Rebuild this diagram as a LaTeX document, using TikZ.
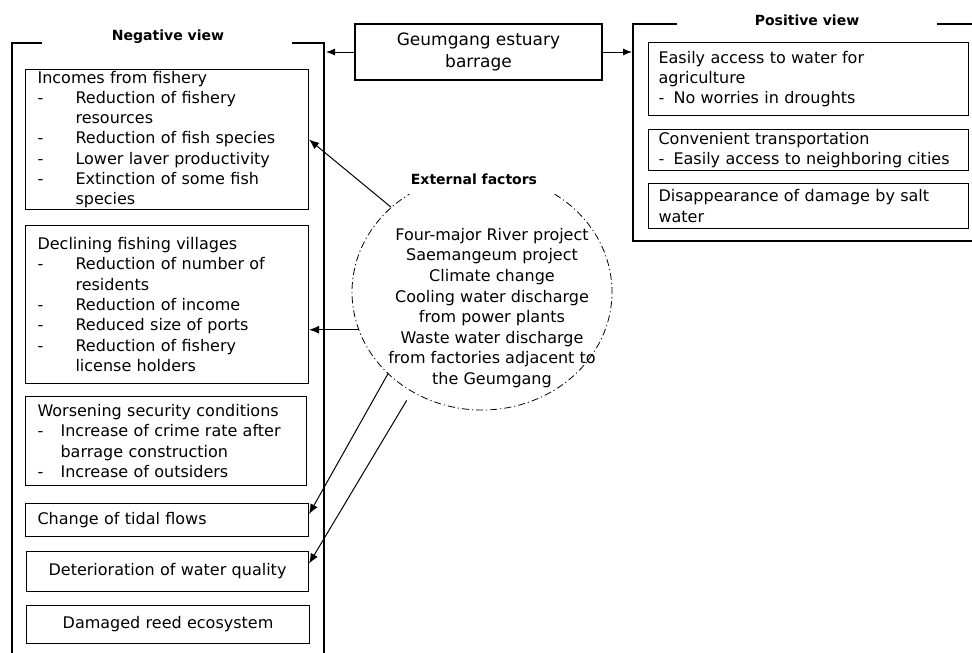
\documentclass[tikz,border=0pt]{standalone}
\usepackage{fontspec}
\setmainfont{DejaVu Sans}
\usepackage{tikz}
\usetikzlibrary{arrows.meta}
\usetikzlibrary{shapes.geometric}

\newcommand{\dashitem}[2][38pt]{\makebox[#1][l]{-}#2}
\newcommand{\itemgap}[1][38pt]{\hspace*{#1}}

\begin{document}
\begin{tikzpicture}[x=1pt, y=-1pt,
	negbox/.style={draw, line width=1.1pt, anchor=north west, inner xsep=12pt, inner ysep=1pt, text width=259pt, align=left, font=\fontsize{16}{20.3}\selectfont},
	posbox/.style={negbox, inner xsep=10pt, text width=300pt},
	frameline/.style={line width=2pt},
	title/.style={font=\bfseries\fontsize{14}{16}\selectfont},
	effect/.style={-{Latex[length=10pt,width=8pt]}, line width=1pt},
	extline/.style={line width=0.8pt, dash pattern=on 7pt off 3pt on 1.2pt off 3pt}]
	
	\useasboundingbox (0,0) rectangle (972,653);
	
	% frames
	\draw[frameline] (42,43) -| (12,653);
	\draw[frameline] (292,43) -| (324,653);
	\draw[frameline] (677,24) -| (633,241) -- (972,241);
	\draw[frameline] (937,24) -- (972,24);
	\coordinate (negedge) at (326,52);
	\coordinate (posedge) at (632,52);
	
	\node[title] (negtitle) at (168,37) {Negative view};
	\node[title] (postitle) at (807,20) {Positive view};
	
	% barrage
	\node[draw, line width=1.1pt, minimum width=247pt, minimum height=56pt, align=center, font=\fontsize{17}{22}\selectfont] (bar) at (478.5,52) {Geumgang estuary\\barrage};
	\draw[-{Latex[length=9pt,width=7pt]}, line width=1pt] (bar.west) -- (bar.west -| negedge);
	\draw[-{Latex[length=9pt,width=7pt]}, line width=1pt] (bar.east) -- (bar.east -| posedge);
	
	% negative view
	\node[negbox, minimum height=140pt] (inc) at (25,69) {Incomes from fishery\\
		\dashitem{Reduction of fishery}\\
		\itemgap resources\\
		\dashitem{Reduction of fish species}\\
		\dashitem{Lower laver productivity}\\
		\dashitem{Extinction of some fish}\\
		\itemgap species};
	\node[negbox, minimum height=158pt] (dec) at (25,225) {Declining fishing villages\\
		\dashitem{Reduction of number of}\\
		\itemgap residents\\
		\dashitem{Reduction of income}\\
		\dashitem{Reduced size of ports}\\
		\dashitem{Reduction of fishery}\\
		\itemgap license holders};
	\node[negbox, minimum height=89pt, text width=257pt] (sec) at (25,396) {Worsening security conditions\\
		\dashitem[23pt]{Increase of crime rate after}\\
		\itemgap[23pt]barrage construction\\
		\dashitem[23pt]{Increase of outsiders}};
	\node[negbox, minimum height=33pt] (tid) at (25,503) {Change of tidal flows};
	\node[negbox, minimum height=40pt, text width=258pt, align=center] (wat) at (26,551) {Deterioration of water quality};
	\node[negbox, minimum height=38pt, align=center] (reed) at (26,605) {Damaged reed ecosystem};
	
	% positive view
	\node[posbox, minimum height=73pt] (agr) at (648,42) {Easily access to water for\\
		agriculture\\
		\dashitem[15pt]{No worries in droughts}};
	\node[posbox, minimum height=41pt] (tra) at (648,129) {Convenient transportation\\
		\dashitem[15pt]{Easily access to neighboring cities}};
	\node[posbox, minimum height=45pt] (sal) at (648,183) {Disappearance of damage by salt\\
		water};
	
	% external factors
	\node[ellipse, minimum width=260pt, minimum height=236pt, inner sep=0pt] (ext) at (482,292) {};
	\draw[extline] (ext.center) ++(-56:130 and 118) arc[start angle=-56, end angle=236, x radius=130, y radius=118];
	\node[title] (exttitle) at (474,179) {External factors};
	\node[align=center, font=\fontsize{16}{20.6}\selectfont] (extlist) at (492,308) {Four-major River project\\
		Saemangeum project\\
		Climate change\\
		Cooling water discharge\\
		from power plants\\
		Waste water discharge\\
		from factories adjacent to\\
		the Geumgang};
	
	\draw[effect] (ext.137) -- (inc.east);
	\draw[effect] (ext.197) -- (ext.197 -| dec.east);
	\draw[effect] (ext.221) -- ([yshift=6pt]tid.east);
	\draw[effect] ([yshift=-12pt]ext.232) -- ([yshift=8pt]wat.east);
\end{tikzpicture}
\end{document}
